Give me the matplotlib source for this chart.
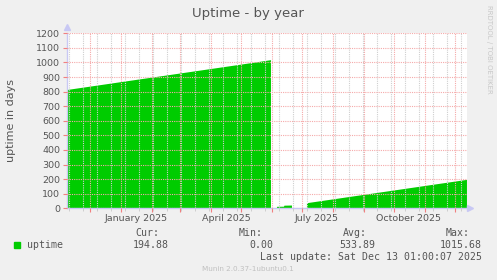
import numpy as np
import matplotlib
matplotlib.use('Agg')
import matplotlib.pyplot as plt
import matplotlib.dates as mdates
from matplotlib.transforms import blended_transform_factory

# uptime samples (days); NaN = no data
dates = np.array(['2024-11-08', '2024-12-01', '2025-01-01', '2025-02-01', '2025-03-01',
                  '2025-04-01', '2025-05-01', '2025-05-31', '2025-05-31T12',
                  '2025-06-06', '2025-06-13', '2025-06-13T12', '2025-06-21', '2025-06-21T12',
                  '2025-07-06', '2025-08-01', '2025-09-01', '2025-10-01', '2025-11-01',
                  '2025-12-01', '2025-12-13'], dtype='datetime64[h]')
uptime = np.array([811, 834, 865, 896, 924, 955, 985, 1015.68, np.nan,
                   10, 11, 18, 19, np.nan,
                   35, 61, 92, 122, 153, 183, 194.88])

month_labels = ['January 2025', 'April 2025', 'July 2025', 'October 2025']
label_dates = np.array(['2025-01-16', '2025-04-16', '2025-07-16', '2025-10-16'], dtype='datetime64[D]')
yticks = list(range(0, 1300, 100))

legend_cols = ['Cur:', 'Min:', 'Avg:', 'Max:']
legend_vals = ['194.88', '0.00', '533.89', '1015.68']

bg = '#F0F0F0'
green = '#00CC00'
txt = '#555555'
axcol = '#C8C8F4'

fig = plt.figure(figsize=(4.97, 2.8), dpi=100, facecolor=bg)
ax = fig.add_axes([67 / 497, 1 - 208.3 / 280, 400 / 497, 175 / 280])
ax.set_facecolor('white')

x = mdates.date2num(dates.astype('datetime64[s]').astype(object))
y = uptime
ok = ~np.isnan(y)
ax.fill_between(x, 0, np.where(ok, y, 0), where=ok, color=green, lw=0, zorder=1,
                interpolate=False)

start = mdates.date2num(np.datetime64('2024-11-08T01').astype(object))
end = mdates.date2num(np.datetime64('2025-12-13T01').astype(object))
ax.set_xlim(start, end)
ax.set_ylim(0, 1200)

# grid
ax.xaxis.set_major_locator(mdates.MonthLocator())
ax.xaxis.set_minor_locator(mdates.WeekdayLocator(byweekday=mdates.SU, interval=2))
ax.set_yticks(yticks)
ax.set_yticklabels([str(v) for v in yticks], fontsize=6.8, color=txt)
ax.set_xticklabels([])
ax.tick_params(axis='x', which='major', length=3, color='#F08080', direction='out')
ax.tick_params(axis='x', which='minor', length=2, color='#C8C8C8', direction='out')
ax.tick_params(axis='y', length=3, color='#F08080', pad=2, direction='out')
ax.grid(True, axis='x', which='minor', color='#CFCFCF', ls=(0, (1, 1)), lw=0.8, zorder=3)
ax.grid(True, axis='x', which='major', color='#F5AAAA', ls=(0, (1, 1)), lw=0.8, zorder=3)
ax.grid(True, axis='y', which='major', color='#F5AAAA', ls=(0, (1, 1)), lw=0.8, zorder=3)
ax.set_axisbelow(False)

for s in ['top', 'right']:
    ax.spines[s].set_visible(False)
for s in ['left', 'bottom']:
    ax.spines[s].set_color(axcol)
    ax.spines[s].set_linewidth(1)
ax.plot([0], [1.035], marker='^', ms=4, color=axcol, transform=ax.transAxes, clip_on=False)
ax.plot([1.008], [0], marker='>', ms=4, color=axcol, transform=ax.transAxes, clip_on=False)

tr = blended_transform_factory(ax.transData, ax.transAxes)
for d, lab in zip(label_dates, month_labels):
    ax.text(mdates.date2num(d.astype(object)), -0.035, lab, transform=tr, ha='center',
            va='top', fontsize=6.8, color=txt)

fig.text(248 / 497, 1 - 14 / 280, 'Uptime - by year', ha='center', va='center',
         fontsize=9.5, color=txt)
fig.text(11 / 497, 1 - 120 / 280, 'uptime in days', rotation=90, ha='center', va='center',
         fontsize=8, color=txt)
fig.text(489 / 497, 1 - 5 / 280, 'RRDTOOL / TOBI OETIKER', rotation=270, ha='center', va='top',
         fontsize=5, color='#C8C8C8')

mono = 'DejaVu Sans Mono'
head_x = [159, 263, 367, 470]
val_x = [169, 273, 375, 482]
for hx, h in zip(head_x, legend_cols):
    fig.text(hx / 497, 1 - 233 / 280, h, ha='right', va='center', family=mono, fontsize=7.1, color=txt)
for vx, v in zip(val_x, legend_vals):
    fig.text(vx / 497, 1 - 245 / 280, v, ha='right', va='center', family=mono, fontsize=7.1, color=txt)
fig.patches.append(plt.Rectangle((14 / 497, 1 - 247.5 / 280), 6 / 497, 6 / 280,
                                 transform=fig.transFigure, color=green))
fig.text(27 / 497, 1 - 245 / 280, 'uptime', ha='left', va='center', family=mono, fontsize=7.1, color=txt)
fig.text(482 / 497, 1 - 256.5 / 280, 'Last update: Sat Dec 13 01:00:07 2025', ha='right', va='center',
         family=mono, fontsize=7.1, color=txt)
fig.text(248 / 497, 1 - 269 / 280, 'Munin 2.0.37-1ubuntu0.1', ha='center', va='center',
         fontsize=5.2, color='#C0C0C0')

fig.savefig('out.png', dpi=100, facecolor=bg)
